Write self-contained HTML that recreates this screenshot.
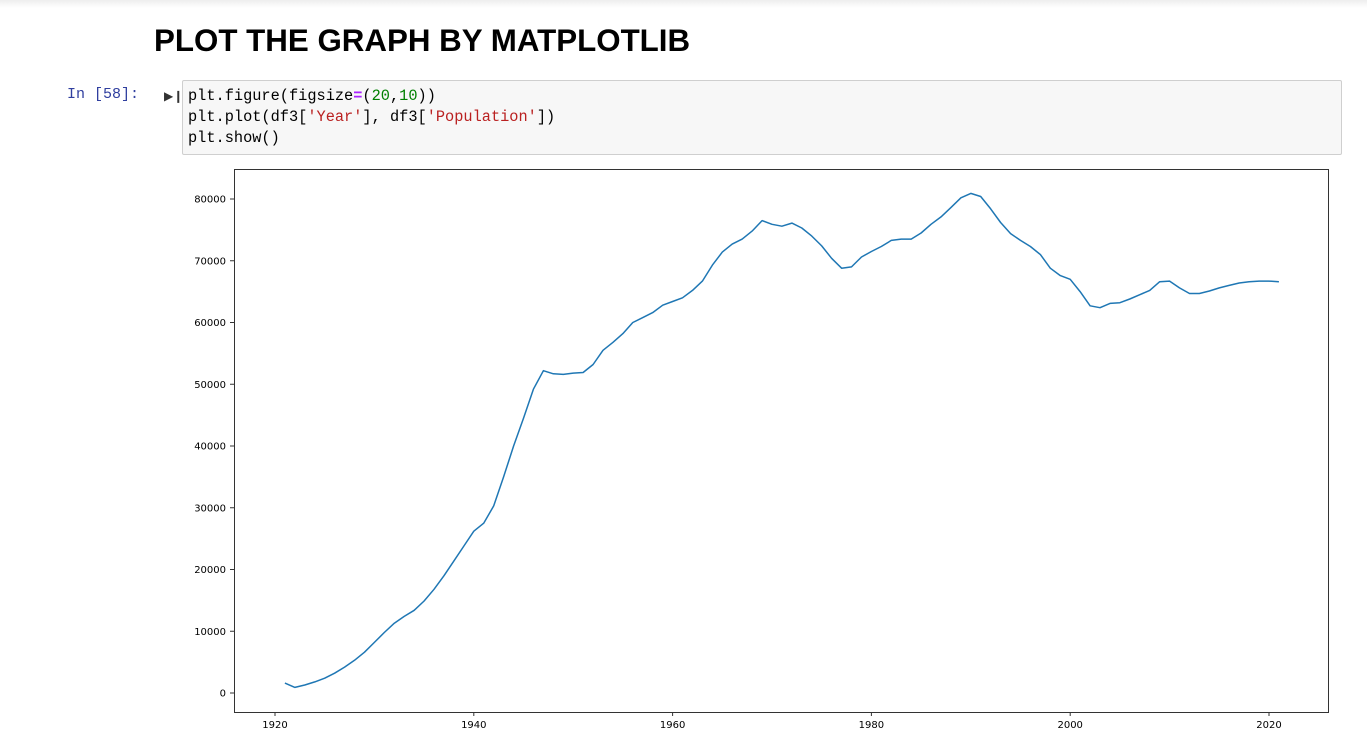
<!DOCTYPE html>
<html><head><meta charset="utf-8"><style>
body{margin:0;width:1367px;height:754px;background:#fff;font-family:"Liberation Sans",sans-serif;position:relative;overflow:hidden}
.topbar{position:absolute;left:0;top:0;width:1367px;height:8px;background:linear-gradient(#eee,#fff)}
h1{position:absolute;left:154px;top:23px;margin:0;font-size:31.3px;font-weight:bold;color:#000}
.prompt{position:absolute;left:67px;top:86px;font-family:"Liberation Mono",monospace;font-size:15px;color:#303F9F}
.runicon{position:absolute;left:164px;top:89px;font-size:12px;color:#333}
.cell{position:absolute;left:182px;top:80px;width:1158px;height:73px;background:#f7f7f7;border:1px solid #cfcfcf;border-radius:2px}
.code{position:absolute;left:5px;top:5px;font-family:"Liberation Mono",monospace;font-size:15.3px;line-height:21px;color:#000;white-space:pre}
.s{color:#BA2121}.n{color:#008000}.o{color:#AA22FF;font-weight:bold}
svg{position:absolute;left:0;top:0}
</style></head><body>
<div class="topbar"></div>
<h1>PLOT THE GRAPH BY MATPLOTLIB</h1>
<div class="prompt">In [58]:</div>
<div class="runicon">&#9654;&#x2759;</div>
<div class="cell"><div class="code">plt.figure(figsize<span class="o">=</span>(<span class="n">20</span>,<span class="n">10</span>))
plt.plot(df3[<span class="s">'Year'</span>], df3[<span class="s">'Population'</span>])
plt.show()</div></div>
<svg id="chart" width="1367" height="754"></svg>
<script>
const startYear=1921;
const population=[1600,900,1300,1800,2400,3200,4200,5300,6600,8200,9800,11300,12400,13400,14900,16800,19000,21400,23800,26200,27500,30300,35000,40000,44500,49200,52200,51700,51600,51800,51900,53200,55500,56800,58200,60000,60800,61600,62800,63400,64000,65200,66700,69300,71400,72700,73500,74800,76500,75900,75600,76100,75300,74000,72400,70400,68800,69000,70600,71500,72300,73300,73500,73500,74500,75900,77100,78600,80200,80900,80400,78400,76200,74400,73300,72300,71000,68800,67600,67000,65000,62700,62400,63100,63200,63800,64500,65200,66600,66700,65600,64700,64700,65100,65600,66000,66400,66600,66700,66700,66600];
const xTicks=[1920,1940,1960,1980,2000,2020];
const yTicks=[0,10000,20000,30000,40000,50000,60000,70000,80000];
const NS="http://www.w3.org/2000/svg";
const svg=document.getElementById('chart');
const L=234,R=1328,T=169,B=712;
const xs=v=>275+(v-1920)*(1269-275)/100;
const ys=v=>693-v*(693-199)/80000;
function mk(t,a){const e=document.createElementNS(NS,t);for(const k in a)e.setAttribute(k,a[k]);svg.appendChild(e);return e;}
const frame=mk('rect',{x:L+0.5,y:T+0.5,width:R-L,height:B-T,fill:'none',stroke:'#333','stroke-width':1});


xTicks.forEach(v=>{const x=xs(v);
const tk=mk('line',{x1:x,x2:x,y1:B,y2:B+4,stroke:'#333'});


const t=mk('text',{x:x,y:B+16,'text-anchor':'middle','font-size':10,'font-family':'DejaVu Sans, Liberation Sans, sans-serif',fill:'#000'});t.textContent=v;

});
yTicks.forEach(v=>{const y=ys(v);
const tk=mk('line',{x1:L-4,x2:L,y1:y,y2:y,stroke:'#333'});


const t=mk('text',{x:L-8,y:y+3.5,'text-anchor':'end','font-size':10,'font-family':'DejaVu Sans, Liberation Sans, sans-serif',fill:'#000'});t.textContent=v;

});
const pts=population.map((v,i)=>xs(startYear+i).toFixed(1)+','+ys(v).toFixed(1)).join(' ');
const line=mk('polyline',{points:pts,fill:'none',stroke:'#1f77b4','stroke-width':1.5,'stroke-linejoin':'round'});


</script>
</body></html>
